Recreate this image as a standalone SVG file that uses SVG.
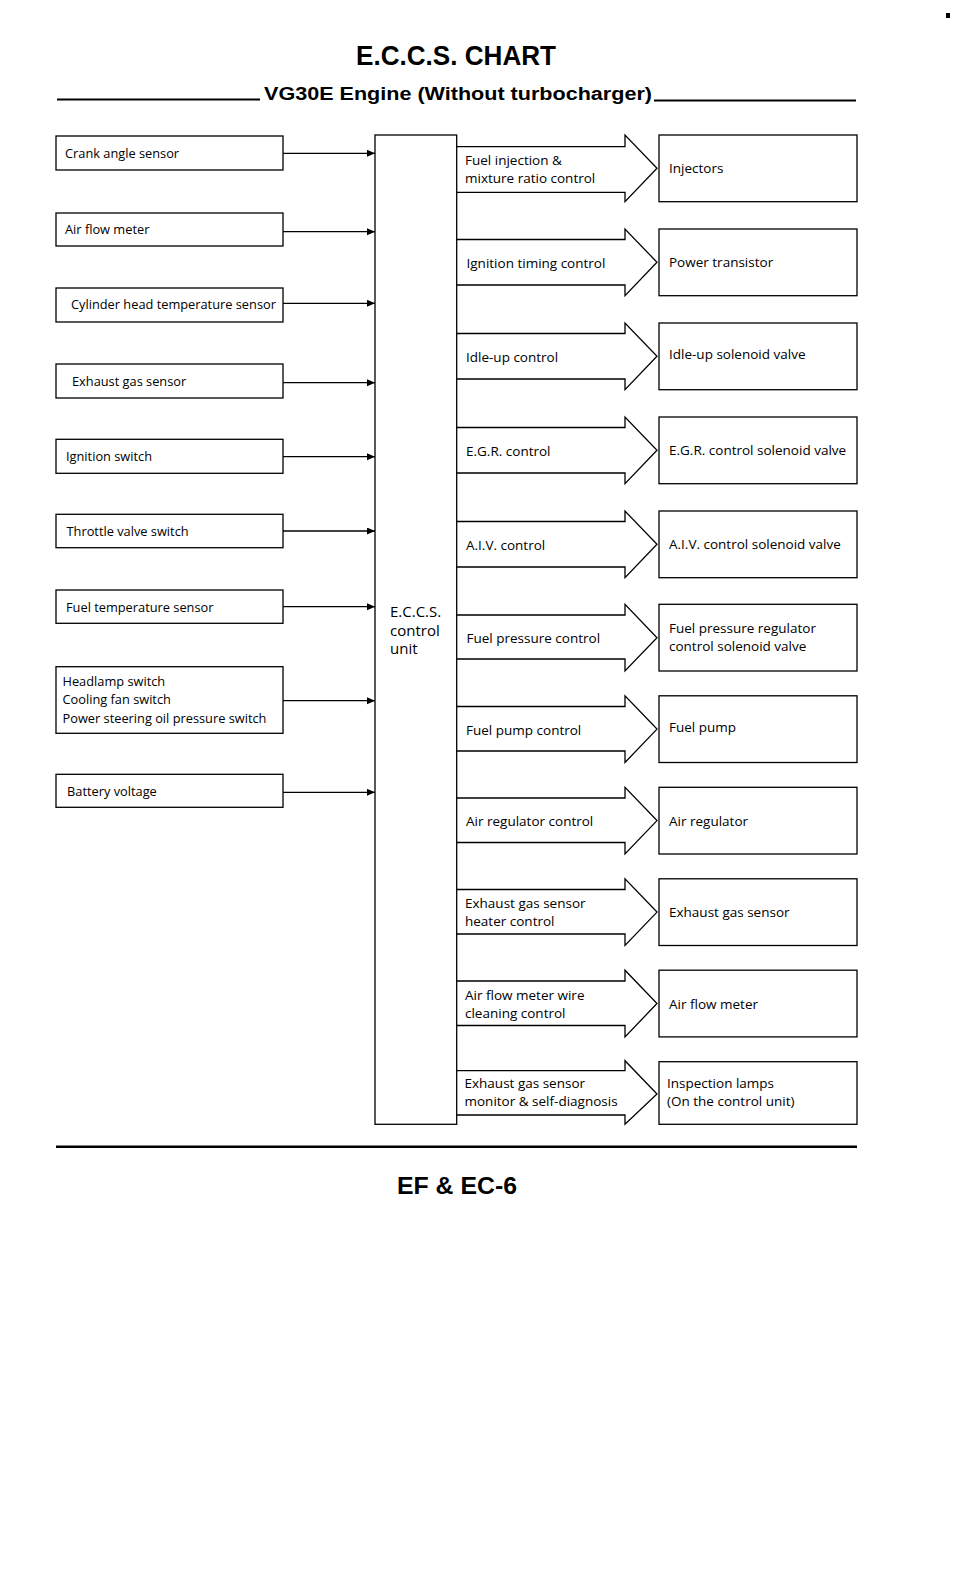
<svg xmlns="http://www.w3.org/2000/svg" width="960" height="1581" viewBox="0 0 960 1581">
<defs>
<marker id="ah" markerUnits="userSpaceOnUse" markerWidth="9" markerHeight="8" refX="8" refY="3.5" orient="auto">
<path d="M0,0 L8,3.5 L0,7 z" fill="#000"/>
</marker>
<style>
.bx{fill:#fff;stroke:#000;stroke-width:1.3}
.ln{fill:none;stroke:#000;stroke-width:1.3}
.fa{fill:none;stroke:#000;stroke-width:1.3;stroke-linejoin:miter}
.tl{font-family:"Open Sans","Liberation Sans",sans-serif;font-size:12.8px;fill:#000}
.tr{font-family:"Open Sans","Liberation Sans",sans-serif;font-size:13.5px;fill:#000}
.tc{font-family:"Open Sans","Liberation Sans",sans-serif;font-size:15px;fill:#000}
.hd{font-family:"Liberation Sans",Arial,sans-serif;font-weight:bold;fill:#000}
.rule{stroke:#000;fill:none}
</style>
</defs>
<rect width="960" height="1581" fill="#fff"/>
<rect x="946" y="13" width="4" height="5" fill="#000"/>

<g id="title">
<text class="hd" x="356" y="65" font-size="27" textLength="200" lengthAdjust="spacingAndGlyphs">E.C.C.S. CHART</text>
<text class="hd" x="264" y="100" font-size="18" textLength="388" lengthAdjust="spacingAndGlyphs">VG30E Engine (Without turbocharger)</text>
<line class="rule" x1="57" y1="99.5" x2="260" y2="99.5" stroke-width="2"/>
<line class="rule" x1="654" y1="100.5" x2="856" y2="100.5" stroke-width="2"/>
</g>

<g id="inputs">
<g id="in-crank"><rect class="bx" x="56" y="136" width="227" height="34"/><text class="tl" x="65" y="158">Crank angle sensor</text></g>
<g id="in-afm"><rect class="bx" x="56" y="213" width="227" height="33"/><text class="tl" x="65" y="234">Air flow meter</text></g>
<g id="in-cht"><rect class="bx" x="56" y="288" width="227" height="34"/><text class="tl" x="71" y="309">Cylinder head temperature sensor</text></g>
<g id="in-egs"><rect class="bx" x="56" y="364" width="227" height="34"/><text class="tl" x="72" y="386">Exhaust gas sensor</text></g>
<g id="in-ign"><rect class="bx" x="56" y="439.3" width="227" height="34"/><text class="tl" x="66" y="461">Ignition switch</text></g>
<g id="in-thr"><rect class="bx" x="56" y="514.3" width="227" height="33.4"/><text class="tl" x="66.5" y="536">Throttle valve switch</text></g>
<g id="in-fts"><rect class="bx" x="56" y="590" width="227" height="33.3"/><text class="tl" x="66" y="612">Fuel temperature sensor</text></g>
<g id="in-hl"><rect class="bx" x="56" y="666.7" width="227" height="66.6"/>
<text class="tl" x="62.5" y="686">Headlamp switch</text>
<text class="tl" x="62.5" y="704">Cooling fan switch</text>
<text class="tl" x="62.5" y="722.5">Power steering oil pressure switch</text></g>
<g id="in-bat"><rect class="bx" x="56" y="774.3" width="227" height="33"/><text class="tl" x="67" y="796">Battery voltage</text></g>
</g>

<g id="ecu">
<rect class="bx" x="375" y="135" width="81.7" height="989.3"/>
<text class="tc" x="390" y="617.3">E.C.C.S.</text>
<text class="tc" x="390" y="636">control</text>
<text class="tc" x="390" y="653.5">unit</text>
</g>

<g id="outputs">
<g id="out-inj"><rect class="bx" x="659" y="135" width="198" height="66.7"/><text class="tr" x="669" y="173.3">Injectors</text></g>
<g id="out-pt"><rect class="bx" x="659" y="229" width="198" height="66.7"/><text class="tr" x="669" y="267.3">Power transistor</text></g>
<g id="out-idle"><rect class="bx" x="659" y="323" width="198" height="66.7"/><text class="tr" x="669" y="359">Idle-up solenoid valve</text></g>
<g id="out-egr"><rect class="bx" x="659" y="417" width="198" height="66.7"/><text class="tr" x="669" y="455">E.G.R. control solenoid valve</text></g>
<g id="out-aiv"><rect class="bx" x="659" y="511" width="198" height="66.7"/><text class="tr" x="669" y="549">A.I.V. control solenoid valve</text></g>
<g id="out-fpr"><rect class="bx" x="659" y="604.3" width="198" height="66.7"/><text class="tr" x="669" y="632.7">Fuel pressure regulator</text><text class="tr" x="669" y="650.7">control solenoid valve</text></g>
<g id="out-fp"><rect class="bx" x="659" y="695.8" width="198" height="66.7"/><text class="tr" x="669" y="732">Fuel pump</text></g>
<g id="out-ar"><rect class="bx" x="659" y="787.3" width="198" height="66.7"/><text class="tr" x="669" y="825.5">Air regulator</text></g>
<g id="out-egs"><rect class="bx" x="659" y="878.8" width="198" height="66.7"/><text class="tr" x="669" y="917">Exhaust gas sensor</text></g>
<g id="out-afm"><rect class="bx" x="659" y="970.2" width="198" height="66.7"/><text class="tr" x="669" y="1008.5">Air flow meter</text></g>
<g id="out-lamp"><rect class="bx" x="659" y="1061.7" width="198" height="62.6"/><text class="tr" x="667" y="1088.3">Inspection lamps</text><text class="tr" x="667" y="1106">(On the control unit)</text></g>
</g>

<g id="connectors">
<g id="inputs-arrows">
<line class="ln" x1="283" y1="153.3" x2="375" y2="153.3" marker-end="url(#ah)"/>
<line class="ln" x1="283" y1="231.7" x2="375" y2="231.7" marker-end="url(#ah)"/>
<line class="ln" x1="283" y1="303.3" x2="375" y2="303.3" marker-end="url(#ah)"/>
<line class="ln" x1="283" y1="382.7" x2="375" y2="382.7" marker-end="url(#ah)"/>
<line class="ln" x1="283" y1="456.7" x2="375" y2="456.7" marker-end="url(#ah)"/>
<line class="ln" x1="283" y1="531" x2="375" y2="531" marker-end="url(#ah)"/>
<line class="ln" x1="283" y1="606.7" x2="375" y2="606.7" marker-end="url(#ah)"/>
<line class="ln" x1="283" y1="700.7" x2="375" y2="700.7" marker-end="url(#ah)"/>
<line class="ln" x1="283" y1="792.3" x2="375" y2="792.3" marker-end="url(#ah)"/>
</g>
<g id="output-arrows">
<path class="fa" d="M456.7,146.7 H625 V135 L657,168.3 L625,201.7 V192.3 H456.7"/>
<text class="tr" x="465" y="165">Fuel injection &amp;</text>
<text class="tr" x="465" y="183.3">mixture ratio control</text>

<path class="fa" d="M456.7,239.5 H625 V229 L657,262.3 L625,295.7 V285 H456.7"/>
<text class="tr" x="466.5" y="268">Ignition timing control</text>

<path class="fa" d="M456.7,333.5 H625 V323 L657,356.3 L625,389.7 V379 H456.7"/>
<text class="tr" x="466" y="361.5">Idle-up control</text>

<path class="fa" d="M456.7,427.5 H625 V417 L657,450.3 L625,483.7 V473 H456.7"/>
<text class="tr" x="466" y="455.5">E.G.R. control</text>

<path class="fa" d="M456.7,521.5 H625 V511 L657,544.3 L625,577.7 V567 H456.7"/>
<text class="tr" x="466" y="549.5">A.I.V. control</text>

<path class="fa" d="M456.7,615 H625 V604.3 L657,637.7 L625,671 V659 H456.7"/>
<text class="tr" x="466.5" y="642.5">Fuel pressure control</text>

<path class="fa" d="M456.7,706.5 H625 V695.8 L657,729.1 L625,762.5 V751 H456.7"/>
<text class="tr" x="466" y="734.5">Fuel pump control</text>

<path class="fa" d="M456.7,798 H625 V787.3 L657,820.6 L625,854 V842.5 H456.7"/>
<text class="tr" x="466" y="826">Air regulator control</text>

<path class="fa" d="M456.7,889.5 H625 V878.8 L657,912.1 L625,945.5 V934 H456.7"/>
<text class="tr" x="465" y="908">Exhaust gas sensor</text>
<text class="tr" x="465" y="926">heater control</text>

<path class="fa" d="M456.7,981 H625 V970.2 L657,1003.5 L625,1036.9 V1025.5 H456.7"/>
<text class="tr" x="465" y="999.5">Air flow meter wire</text>
<text class="tr" x="465" y="1017.5">cleaning control</text>

<path class="fa" d="M456.7,1070.7 H625 V1060.7 L657,1094 L625,1124.3 V1115 H456.7"/>
<text class="tr" x="464.5" y="1088.3">Exhaust gas sensor</text>
<text class="tr" x="464.5" y="1106">monitor &amp; self-diagnosis</text>
</g>
</g>

<g id="footer">
<line class="rule" x1="56" y1="1146.7" x2="857" y2="1146.7" stroke-width="2.5"/>
<text class="hd" x="397" y="1194" font-size="23" textLength="120" lengthAdjust="spacingAndGlyphs">EF &amp; EC-6</text>
</g>
</svg>
